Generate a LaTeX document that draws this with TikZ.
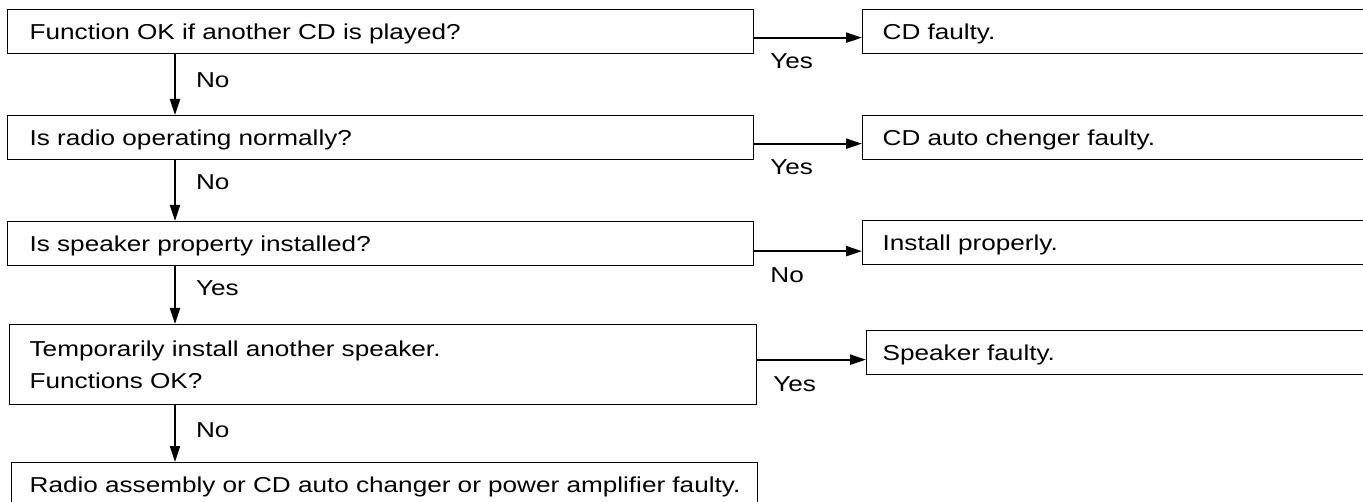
\documentclass[tikz,border=0pt]{standalone}
\usepackage{fontspec}
\setmainfont{Liberation Sans}[FakeStretch=1.21]
\usetikzlibrary{arrows.meta,positioning}

\begin{document}
\begin{tikzpicture}[x=1pt, y=-1pt, font=\fontsize{21.6}{32}\selectfont,
    qbox/.style={draw, line width=1.3pt, anchor=north west, minimum height=44pt, inner xsep=22pt, text width=702pt, align=left},
    onebox/.style={text height=15.5pt, text depth=0pt},
    abox/.style={draw, line width=1.3pt, anchor=north west, minimum height=44pt, inner xsep=20pt, text width=470pt, align=left, onebox},
    arr/.style={line width=2.2pt, -{Triangle[length=16pt, width=10pt]}},
    lbl/.style={inner sep=0pt, anchor=north west}]
  \useasboundingbox (0,0) rectangle (1363,502);
  \clip (0,0) rectangle (1363,502);
  \coordinate (spine) at (175,0);

  % questions
  \node[qbox, onebox] (q1) at (7,9) {Function OK if another CD is played?};
  \node[qbox, onebox] (q2) at (7,115) {Is radio operating normally?};
  \node[qbox, onebox] (q3) at (7,221) {Is speaker property installed?};
  \node[qbox, minimum height=80pt, inner xsep=20pt, text width=707pt] (q4) at (9,324) {Temporarily install another speaker.\\Functions OK?};
  \node[qbox, onebox, inner xsep=18pt, text width=710pt] (q5) at (11,462) {\mbox{Radio assembly or CD auto changer or power amplifier faulty.}};

  % results
  \node[abox] (a1) at (862,9) {CD faulty.};
  \node[abox] (a2) at (862,115) {CD auto chenger faulty.};
  \node[abox] (a3) at (862,220) {Install properly.};
  \node[abox, inner xsep=16pt, text width=478pt] (a4) at (866,330) {Speaker faulty.};

  \draw[arr] (q1.south -| spine) -- (q2.north -| spine) node[lbl, pos=0, xshift=20pt, yshift=-17pt] {No};
  \draw[arr] (q2.south -| spine) -- (q3.north -| spine) node[lbl, pos=0, xshift=20pt, yshift=-13pt] {No};
  \draw[arr] (q3.south -| spine) -- (q4.north -| spine) node[lbl, pos=0, xshift=20pt, yshift=-13pt] {Yes};
  \draw[arr] (q4.south -| spine) -- (q5.north -| spine) node[lbl, pos=0, xshift=20pt, yshift=-16pt] {No};

  \draw[arr] ([yshift=-6pt]q1.east) -- ([yshift=-6pt]q1.east -| a1.west) node[lbl, pos=0, xshift=15pt, yshift=-15pt] {Yes};
  \draw[arr] ([yshift=-6pt]q2.east) -- ([yshift=-6pt]q2.east -| a2.west) node[lbl, pos=0, xshift=15pt, yshift=-15pt] {Yes};
  \draw[arr] ([yshift=-7.5pt]q3.east) -- ([yshift=-7.5pt]q3.east -| a3.west) node[lbl, pos=0, xshift=15pt, yshift=-15pt] {No};
  \draw[arr] ([yshift=5pt]q4.east) -- ([yshift=5pt]q4.east -| a4.west) node[lbl, pos=0, xshift=15pt, yshift=-16pt] {Yes};
\end{tikzpicture}
\end{document}
